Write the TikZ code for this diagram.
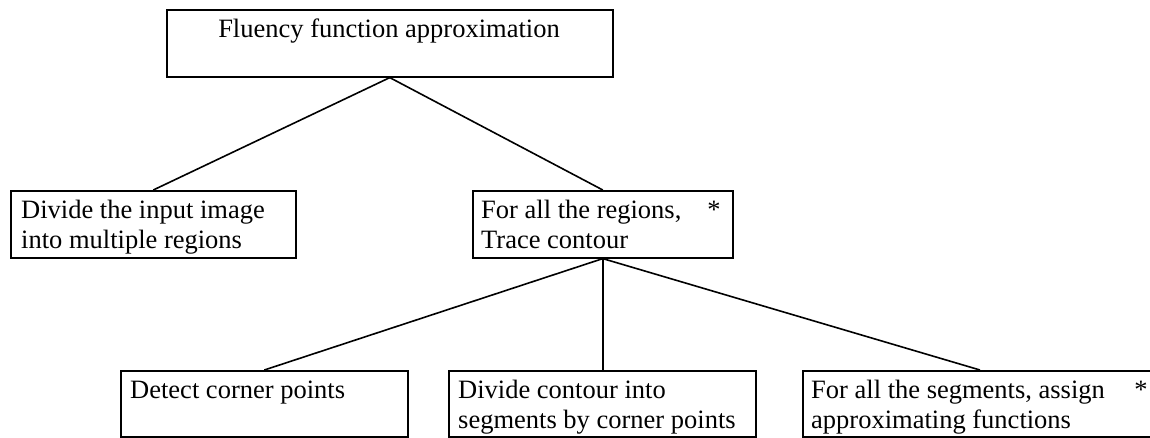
\documentclass[tikz,border=0pt]{standalone}
\usepackage{fontspec}
\setmainfont{Liberation Serif}
\begin{document}
\begin{tikzpicture}[x=1pt,y=-1pt,
  box/.style={draw, line width=1.6pt, inner sep=0pt, anchor=north west},
  lbl/.style={anchor=base west, inner sep=0pt, font=\fontsize{26.5}{30}\selectfont},
  conn/.style={line width=1.6pt}]
\useasboundingbox (0,0) rectangle (1150,437);
% boxes
\node[box, minimum width=446pt, minimum height=67pt] (top) at (166,9) {};
\node[box, minimum width=285pt, minimum height=67pt] (left) at (10,190) {};
\node[box, minimum width=260pt, minimum height=67pt] (mid) at (472,190) {};
\node[box, minimum width=287pt, minimum height=66pt] (detect) at (120,370) {};
\node[box, minimum width=307pt, minimum height=66pt] (divc) at (448,370) {};
\node[box, minimum width=350pt, minimum height=66pt] (assign) at (802,370) {};
% texts
\node[lbl, anchor=base] (ttop) at (389,37) {Fluency function approximation};
\node[lbl] (tl1) at (21,218) {Divide the input image};
\node[lbl] (tl2) at (21,248) {into multiple regions};
\node[lbl] (tm1) at (481,218) {For all the regions,};
\node[lbl] (tm2) at (481,248) {Trace contour};
\node[lbl, anchor=base] (sm) at (714,218) {*};
\node[lbl] (td) at (130,398) {Detect corner points};
\node[lbl] (tc1) at (458,398) {Divide contour into};
\node[lbl] (tc2) at (458,428) {segments by corner points};
\node[lbl] (ta1) at (811,398) {For all the segments, assign};
\node[lbl] (ta2) at (811,428) {approximating functions};
\node[lbl, anchor=base] (sa) at (1141,398) {*};
% connectors
\coordinate (ra) at (980,370);
\draw[conn] (top.south) -- (left.north);
\draw[conn] (top.south) -- (mid.north);
\draw[conn] (mid.south) -- (detect.north);
\draw[conn] (mid.south) -- (mid.south |- divc.north);
\draw[conn] (mid.south) -- (ra);
\end{tikzpicture}
\end{document}
